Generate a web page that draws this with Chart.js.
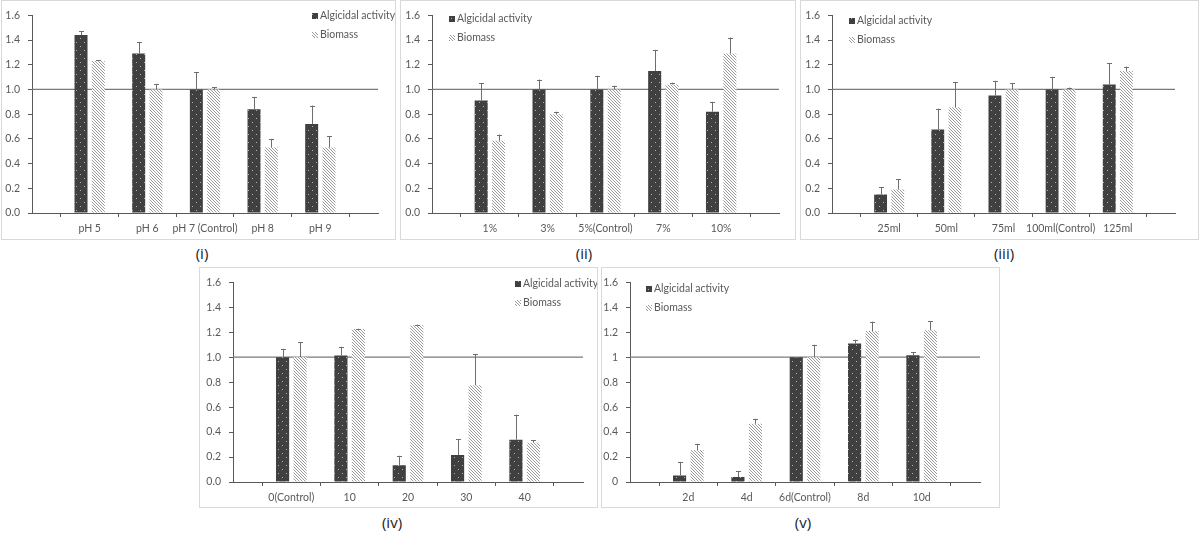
<!DOCTYPE html>
<html>
<head>
<meta charset="utf-8">
<script src="https://cdn.jsdelivr.net/npm/chart.js@4/dist/chart.umd.min.js"></script>
<style>
  body { margin: 0; background: #fff; width: 1200px; height: 534px; position: relative; overflow: hidden; }
  .panel { position: absolute; border: 1px solid #d9d9d9; box-sizing: border-box; }
  .panel canvas { position: absolute; left: 0; top: 0; }
  .caption { position: absolute; font-family: "Open Sans", sans-serif; font-size: 15px; color: #222; transform: translate(-50%, -50%); white-space: nowrap; }
</style>
</head>
<body>
<div id="wrap"></div>
<script>
// ---- data ----
const seriesNames = ['Algicidal activity', 'Biomass'];
const yTickValues = [0, 0.2, 0.4, 0.6, 0.8, 1.0, 1.2, 1.4, 1.6];
const controlLevel = 1;

const phLabels = ['pH 5', 'pH 6', 'pH 7 (Control)', 'pH 8', 'pH 9'];
const phAlgicidal = [1.44, 1.29, 1.00, 0.84, 0.72];
const phAlgicidalErr = [0.03, 0.09, 0.14, 0.10, 0.15];
const phBiomass = [1.23, 1.00, 1.00, 0.53, 0.53];
const phBiomassErr = [0.005, 0.04, 0.02, 0.07, 0.09];

const inocLabels = ['1%', '3%', '5%(Control)', '7%', '10%'];
const inocAlgicidal = [0.91, 1.00, 1.00, 1.15, 0.82];
const inocAlgicidalErr = [0.14, 0.08, 0.11, 0.17, 0.08];
const inocBiomass = [0.585, 0.80, 1.00, 1.04, 1.29];
const inocBiomassErr = [0.05, 0.02, 0.03, 0.015, 0.13];

const volLabels = ['25ml', '50ml', '75ml', '100ml(Control)', '125ml'];
const volAlgicidal = [0.15, 0.675, 0.95, 1.00, 1.04];
const volAlgicidalErr = [0.06, 0.17, 0.12, 0.10, 0.17];
const volBiomass = [0.19, 0.855, 1.00, 1.00, 1.15];
const volBiomassErr = [0.085, 0.205, 0.05, 0.015, 0.035];

const speedLabels = ['0(Control)', '10', '20', '30', '40'];
const speedAlgicidal = [1.00, 1.013, 0.135, 0.217, 0.339];
const speedAlgicidalErr = [0.065, 0.07, 0.075, 0.127, 0.20];
const speedBiomass = [1.00, 1.225, 1.256, 0.775, 0.315];
const speedBiomassErr = [0.12, 0.003, 0.005, 0.25, 0.018];

const dayLabels = ['2d', '4d', '6d(Control)', '8d', '10d'];
const dayAlgicidal = [0.053, 0.04, 1.00, 1.11, 1.016];
const dayAlgicidalErr = [0.108, 0.047, 0, 0.03, 0.024];
const dayBiomass = [0.256, 0.467, 1.00, 1.21, 1.216];
const dayBiomassErr = [0.05, 0.04, 0.10, 0.075, 0.072];

// ---- patterns ----
function dotPattern() {
  const c = document.createElement('canvas');
  c.width = 8; c.height = 8;
  const g = c.getContext('2d');
  g.fillStyle = '#404040';
  g.fillRect(0, 0, 8, 8);
  g.fillStyle = '#b0b0b0';
  g.fillRect(2, 1, 1, 1);
  g.fillRect(6, 5, 1, 1);
  return g.createPattern(c, 'repeat');
}
function hatchPattern() {
  const c = document.createElement('canvas');
  c.width = 3; c.height = 3;
  const g = c.getContext('2d');
  g.fillStyle = '#ffffff';
  g.fillRect(0, 0, 3, 3);
  g.fillStyle = '#999999';
  g.fillRect(0, 0, 1, 1);
  g.fillRect(1, 1, 1, 1);
  g.fillRect(2, 2, 1, 1);
  return g.createPattern(c, 'repeat');
}
const darkFill = dotPattern();
const hatchFill = hatchPattern();

const axisColor = '#595959';
const textColor = '#595959';
const fontFamily = 'Lato, "Open Sans", sans-serif';

// error bars, drawn through the y scale
const errorBarPlugin = {
  id: 'errorBars',
  afterDatasetsDraw(chart) {
    const ctx = chart.ctx;
    const y = chart.scales.y;
    chart.data.datasets.forEach((ds, i) => {
      if (!ds.errors) return;
      const meta = chart.getDatasetMeta(i);
      meta.data.forEach((bar, j) => {
        const v = ds.data[j];
        const e = ds.errors[j];
        if (v == null || e == null) return;
        const top = y.getPixelForValue(v + e);
        ctx.save();
        ctx.strokeStyle = '#6e6e6e';
        ctx.lineWidth = 1;
        ctx.beginPath();
        ctx.moveTo(Math.round(bar.x) + 0.5, bar.y);
        ctx.lineTo(Math.round(bar.x) + 0.5, top);
        ctx.moveTo(Math.round(bar.x) - 2, Math.round(top) + 0.5);
        ctx.lineTo(Math.round(bar.x) + 3, Math.round(top) + 0.5);
        ctx.stroke();
        ctx.restore();
      });
    });
  }
};

// legend placed inside the panel
const panelLegendPlugin = {
  id: 'panelLegend',
  afterDraw(chart, args, opts) {
    if (!opts || opts.x == null) return;
    const ctx = chart.ctx;
    ctx.save();
    ctx.font = '10.5px ' + fontFamily;
    ctx.textBaseline = 'middle';
    const rows = [{ fill: darkFill, label: seriesNames[0] }, { fill: hatchFill, label: seriesNames[1] }];
    rows.forEach((r, k) => {
      const cy = opts.y + k * opts.gap;
      ctx.fillStyle = r.fill;
      ctx.fillRect(opts.x, cy - 3, 6, 6);
      ctx.fillStyle = textColor;
      ctx.fillText(r.label, opts.x + 8, cy);
    });
    ctx.restore();
  }
};

function makePanel(box, axis, legend, labels, alg, algErr, bio, bioErr, tickFmt) {
  const div = document.createElement('div');
  div.className = 'panel';
  div.style.left = box.x + 'px';
  div.style.top = box.y + 'px';
  div.style.width = box.w + 'px';
  div.style.height = box.h + 'px';
  const cv = document.createElement('canvas');
  const cw = box.w - 2, ch = box.h - 2;
  cv.width = cw; cv.height = ch;
  cv.style.width = cw + 'px'; cv.style.height = ch + 'px';
  div.appendChild(cv);
  document.getElementById('wrap').appendChild(div);

  const ox = box.x + 1, oy = box.y + 1;
  const yAxisW = axis.x0 - ox;
  const xAxisH = 26;
  const cats = [''].concat(labels, ['']);
  const pad = arr => [null].concat(arr, [null]);

  new Chart(cv, {
    data: {
      labels: cats,
      datasets: [
        {
          type: 'bar', label: seriesNames[0], data: pad(alg), errors: pad(algErr),
          backgroundColor: darkFill, borderWidth: 0, order: 1,
          categoryPercentage: 0.6, barPercentage: 0.75
        },
        {
          type: 'bar', label: seriesNames[1], data: pad(bio), errors: pad(bioErr),
          backgroundColor: hatchFill, borderWidth: 0, order: 1,
          categoryPercentage: 0.6, barPercentage: 0.75
        },
        {
          type: 'line', label: 'control', data: cats.map(() => controlLevel),
          borderColor: '#7a7a7a', borderWidth: 1.3, pointRadius: 0, order: 2
        }
      ]
    },
    options: {
      responsive: false,
      animation: false,
      layout: {
        padding: {
          left: 0,
          top: axis.y0 - oy,
          right: (ox + cw) - axis.x1,
          bottom: (oy + ch) - axis.y1 - xAxisH
        }
      },
      plugins: {
        legend: { display: false },
        tooltip: { enabled: false },
        panelLegend: { x: legend.x - ox, y: legend.y - oy, gap: legend.gap }
      },
      scales: {
        x: {
          offset: false,
          grid: { drawOnChartArea: false, color: axisColor, tickLength: 4 },
          border: { color: axisColor, width: 1 },
          ticks: { color: textColor, font: { family: fontFamily, size: 10.5 }, padding: 5, maxRotation: 0, autoSkip: false },
          afterFit(scale) { scale.height = xAxisH; }
        },
        y: {
          min: 0, max: 1.6,
          afterBuildTicks(scale) { scale.ticks = yTickValues.map(v => ({ value: v })); },
          grid: { drawOnChartArea: false, color: axisColor, tickLength: 4 },
          border: { color: axisColor, width: 1 },
          ticks: {
            color: textColor, font: { family: fontFamily, size: 10.5 }, padding: 8,
            callback: v => tickFmt(v)
          },
          afterFit(scale) { scale.width = yAxisW; }
        }
      }
    },
    plugins: [errorBarPlugin, panelLegendPlugin]
  });
}

function addCaption(text, x, y) {
  const d = document.createElement('div');
  d.className = 'caption';
  d.textContent = text;
  d.style.left = x + 'px';
  d.style.top = y + 'px';
  document.getElementById('wrap').appendChild(d);
}

const fixed1 = v => v.toFixed(1);
const general = v => String(Math.round(v * 10) / 10);

makePanel({ x: 1, y: 0, w: 395, h: 240 }, { x0: 32, y0: 13, y1: 213, x1: 378 },
  { x: 312, y: 16, gap: 19 }, phLabels, phAlgicidal, phAlgicidalErr, phBiomass, phBiomassErr, fixed1);
makePanel({ x: 400, y: 0, w: 396, h: 240 }, { x0: 432, y0: 13, y1: 213, x1: 779 },
  { x: 449, y: 19, gap: 19 }, inocLabels, inocAlgicidal, inocAlgicidalErr, inocBiomass, inocBiomassErr, fixed1);
makePanel({ x: 800, y: 0, w: 399, h: 240 }, { x0: 832, y0: 13, y1: 213, x1: 1175 },
  { x: 849, y: 21, gap: 19 }, volLabels, volAlgicidal, volAlgicidalErr, volBiomass, volBiomassErr, fixed1);
makePanel({ x: 199, y: 267, w: 399, h: 241 }, { x0: 233, y0: 280, y1: 482, x1: 583 },
  { x: 515, y: 284, gap: 19 }, speedLabels, speedAlgicidal, speedAlgicidalErr, speedBiomass, speedBiomassErr, fixed1);
makePanel({ x: 601, y: 267, w: 399, h: 241 }, { x0: 630, y0: 279, y1: 482, x1: 980 },
  { x: 646, y: 289, gap: 19 }, dayLabels, dayAlgicidal, dayAlgicidalErr, dayBiomass, dayBiomassErr, general);

addCaption('(i)', 202, 253);
addCaption('(ii)', 584, 253);
addCaption('(iii)', 1004, 253);
addCaption('(iv)', 392, 522);
addCaption('(v)', 803, 522);
</script>
</body>
</html>
